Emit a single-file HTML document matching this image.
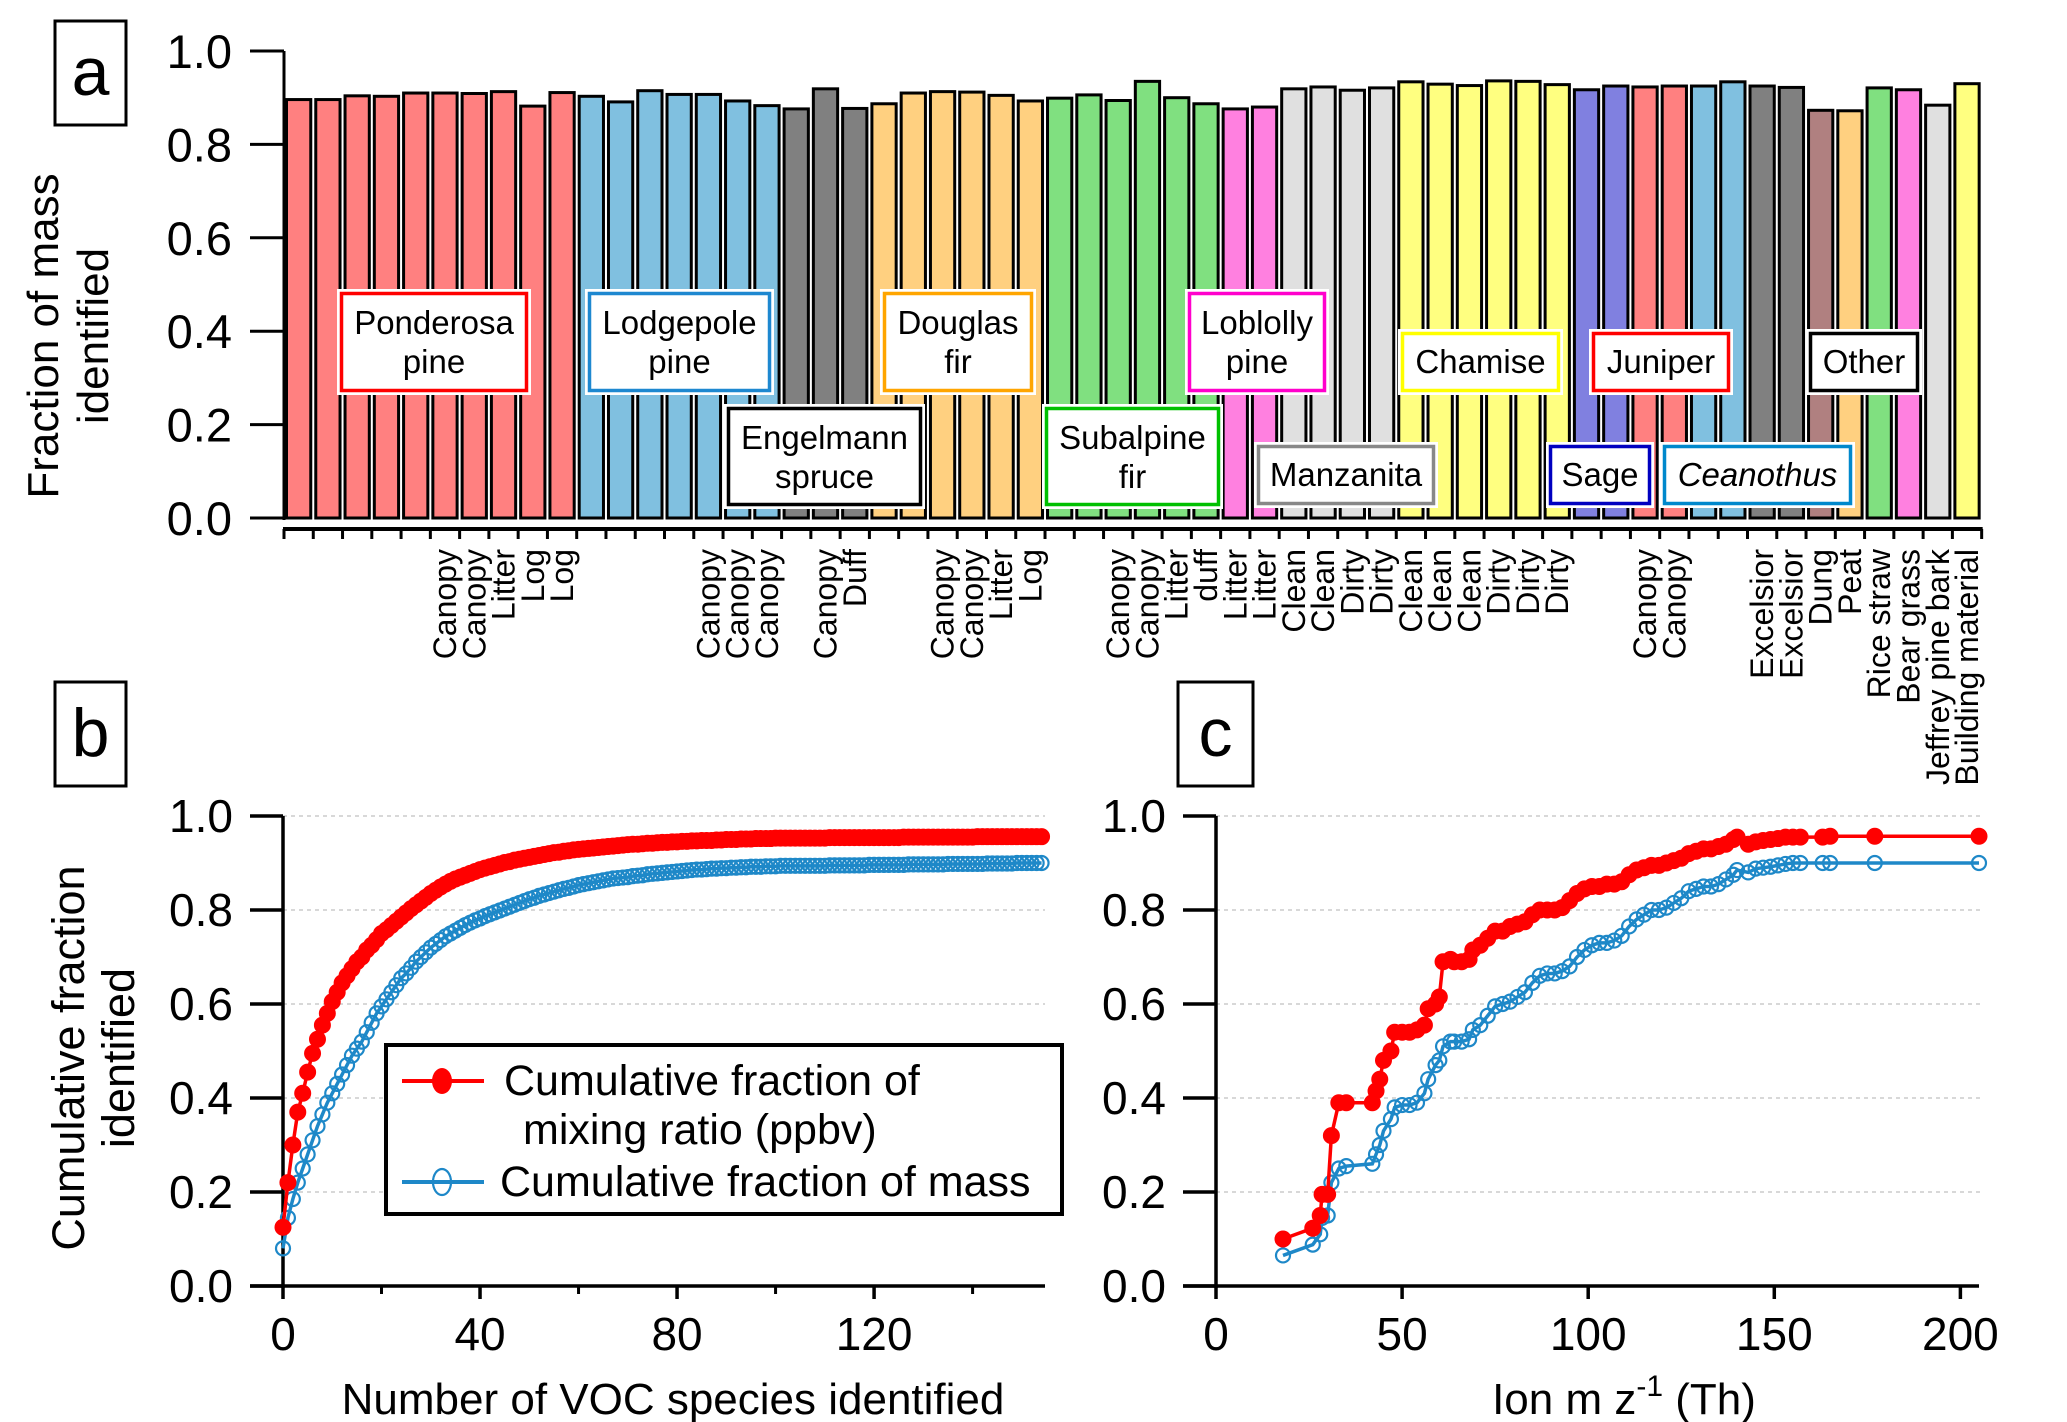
<!DOCTYPE html>
<html><head><meta charset="utf-8">
<style>
html,body{margin:0;padding:0;background:#fff;}
svg{display:block;font-family:"Liberation Sans",Arial,sans-serif;}
</style></head>
<body>
<svg id="fig" width="2067" height="1422" viewBox="0 0 2067 1422" xmlns="http://www.w3.org/2000/svg">
<rect width="2067" height="1422" fill="#fff"/>
<g id="pa"></g>
<g id="pb"></g>
<g id="pc"></g>
</svg>
<script>
// ---------- Panel a data ----------
const barValues = [0.896,0.896,0.904,0.903,0.910,0.910,0.909,0.913,0.882,0.911,
 0.903,0.891,0.915,0.907,0.907,0.893,0.883,
 0.876,0.919,0.877,
 0.887,0.910,0.913,0.912,0.905,0.893,
 0.899,0.906,0.894,0.935,0.900,0.887,
 0.876,0.880,
 0.919,0.923,0.916,0.921,
 0.934,0.929,0.926,0.936,0.935,0.928,
 0.917,0.925,
 0.923,0.925,
 0.925,0.934,
 0.925,0.922,
 0.873,0.872,0.921,0.917,0.884,0.930];
const barGroups = ['pp','pp','pp','pp','pp','pp','pp','pp','pp','pp',
 'lp','lp','lp','lp','lp','lp','lp','es','es','es',
 'df','df','df','df','df','df','sf','sf','sf','sf','sf','sf',
 'll','ll','mz','mz','mz','mz','ch','ch','ch','ch','ch','ch',
 'sg','sg','jn','jn','ce','ce','dg','dg','br','df','sf','ll','mz','ch'];
const barLabels = ['','','','','','Canopy','Canopy','Litter','Log','Log',
 '','','','','Canopy','Canopy','Canopy','','Canopy','Duff',
 '','','Canopy','Canopy','Litter','Log','','','Canopy','Canopy','Litter','duff',
 'Litter','Litter','Clean','Clean','Dirty','Dirty','Clean','Clean','Clean','Dirty','Dirty','Dirty',
 '','','Canopy','Canopy','','','Excelsior','Excelsior','Dung','Peat','Rice straw','Bear grass','Jeffrey pine bark','Building material'];
const aTicks = [0,0.2,0.4,0.6,0.8,1.0];

// ---------- Panel b data ----------
const bMixing = [0.125,0.22,0.30,0.37,0.41,0.455,0.495,0.525,0.555,0.58,0.605,
 0.625,0.645,0.66,0.675,0.69,0.70,0.715,0.725,0.737,0.75,
 0.758,0.767,0.776,0.785,0.794,0.803,0.811,0.819,0.827,0.835,
 0.842,0.849,0.855,0.861,0.866,0.870,0.874,0.878,0.882,0.886,
 0.889,0.892,0.895,0.898,0.901,0.903,0.906,0.908,0.910,0.912,
 0.914,0.916,0.918,0.920,0.922,0.923,0.925,0.926,0.928,0.929,
 0.930,0.931,0.932,0.933,0.934,0.935,0.936,0.937,0.938,0.939,
 0.940,0.940,0.941,0.942,0.942,0.943,0.944,0.944,0.945,0.945,
 0.946,0.946,0.947,0.947,0.948,0.948,0.948,0.949,0.949,0.950,
 0.950,0.950,0.951,0.951,0.951,0.952,0.952,0.952,0.952,0.953,
 0.953,0.953,0.953,0.953,0.953,0.953,0.953,0.953,0.953,0.953,
 0.954,0.954,0.954,0.954,0.954,0.954,0.954,0.954,0.954,0.954,0.954,0.954,0.954,0.954,0.954,
 0.955,0.955,0.955,0.955,0.955,0.955,0.955,0.955,0.955,0.955,0.955,0.955,0.955,0.955,0.955,
 0.956,0.956,0.956,0.956,0.956,0.956,0.956,0.956,0.956,0.956,0.956,0.956,0.956,0.956];
const bMass = [0.08,0.145,0.185,0.22,0.25,0.28,0.31,0.34,0.365,0.39,0.41,
 0.43,0.45,0.47,0.49,0.505,0.52,0.54,0.56,0.58,0.595,
 0.61,0.625,0.64,0.655,0.665,0.677,0.69,0.70,0.71,0.72,
 0.728,0.736,0.744,0.75,0.756,0.762,0.768,0.773,0.778,0.782,
 0.787,0.791,0.795,0.799,0.803,0.807,0.811,0.815,0.819,0.823,
 0.826,0.83,0.833,0.836,0.839,0.842,0.845,0.847,0.85,0.853,
 0.855,0.857,0.859,0.861,0.863,0.865,0.867,0.868,0.869,0.87,
 0.872,0.873,0.874,0.876,0.877,0.878,0.879,0.880,0.881,0.882,
 0.883,0.884,0.885,0.886,0.886,0.887,0.888,0.888,0.889,0.889,
 0.890,0.890,0.891,0.891,0.892,0.892,0.892,0.893,0.893,0.893,
 0.894,0.894,0.894,0.894,0.894,0.894,0.894,0.894,0.894,0.894,
 0.895,0.895,0.895,0.895,0.895,0.895,0.895,0.895,
 0.896,0.896,0.896,0.896,0.896,0.896,0.896,0.896,
 0.897,0.897,0.897,0.897,0.897,0.897,0.897,0.897,
 0.898,0.898,0.898,0.898,0.898,0.898,0.898,0.898,
 0.899,0.899,0.899,0.899,0.899,0.899,
 0.900,0.900,0.900,0.900,0.900,0.900];
const bXTicks = [0,40,80,120];
const bYTicks = [0,0.2,0.4,0.6,0.8,1.0];

// ---------- Panel c data ----------
const cMz = [18,26,28,28.5,30,31,33,35,42,43,44,45,47,48,50,52,54,56,57,59,60,61,63,64,66,68,69,71,73,75,77,79,81,83,85,87,89,91,93,95,97,99,101,103,105,107,109,111,113,115,117,119,121,123,125,127,129,131,133,135,137,139,140,143,145,147,149,151,153,155,157,163,165,177,205];
const cMixing = [0.10,0.123,0.15,0.195,0.195,0.32,0.39,0.39,0.39,0.415,0.44,0.48,0.50,0.54,0.54,0.54,0.545,0.555,0.59,0.60,0.615,0.69,0.695,0.69,0.69,0.695,0.715,0.725,0.74,0.755,0.755,0.765,0.77,0.775,0.79,0.80,0.80,0.80,0.805,0.82,0.835,0.845,0.85,0.85,0.855,0.855,0.86,0.875,0.885,0.89,0.895,0.895,0.90,0.905,0.91,0.92,0.925,0.93,0.93,0.935,0.94,0.95,0.955,0.94,0.945,0.948,0.95,0.952,0.955,0.955,0.955,0.955,0.957,0.957,0.957];
const cMass = [0.065,0.088,0.11,0.145,0.15,0.22,0.25,0.255,0.26,0.28,0.30,0.33,0.355,0.38,0.385,0.385,0.39,0.41,0.44,0.47,0.48,0.51,0.52,0.52,0.52,0.525,0.545,0.555,0.575,0.595,0.60,0.605,0.615,0.625,0.645,0.66,0.665,0.665,0.67,0.68,0.70,0.715,0.725,0.73,0.73,0.735,0.745,0.765,0.78,0.79,0.80,0.80,0.805,0.815,0.825,0.84,0.845,0.85,0.85,0.855,0.865,0.875,0.885,0.88,0.888,0.89,0.892,0.895,0.898,0.90,0.90,0.90,0.90,0.90,0.90];
const cXTicks = [0,50,100,150,200];
const cYTicks = [0,0.2,0.4,0.6,0.8,1.0];

const NS='http://www.w3.org/2000/svg';
function mk(parent, tag, attrs, text){
  const e=document.createElementNS(NS,tag);
  for(const k in attrs) e.setAttribute(k,attrs[k]);
  if(text!==undefined) e.textContent=text;
  parent.appendChild(e); return e;
}
const fill={pp:'#FF8080',lp:'#80C0E0',es:'#808080',df:'#FFD080',sf:'#80E080',ll:'#FF80E0',mz:'#E0E0E0',ch:'#FFFF80',sg:'#8080E0',jn:'#FF8080',ce:'#80C0E0',dg:'#808080',br:'#B08080'};

// ---------- Panel a ----------
const pa=document.getElementById('pa');
const aX0=284, aStep=29.27, aY0=518, aY1=51;
const ay=v=>aY0-(aY0-aY1)*v;
const ax=i=>aX0+i*aStep;
let el;
el=mk(pa,'rect',{x:55,y:21,width:71,height:104,fill:'#fff',stroke:'#000','stroke-width':3});


el=mk(pa,'text',{x:90.5,y:95,'font-size':68,'text-anchor':'middle'},'a');


el=mk(pa,'text',{transform:'translate(58,336) rotate(-90)','font-size':44,'text-anchor':'middle'},'Fraction of mass');


el=mk(pa,'text',{transform:'translate(108,336) rotate(-90)','font-size':44,'text-anchor':'middle'},'identified');


barValues.forEach((v,i)=>{
  const r=mk(pa,'rect',{x:ax(i)+2.5,y:ay(v),width:aStep-5,height:aY0-ay(v),fill:fill[barGroups[i]],stroke:'#000','stroke-width':3});
  
  
});
el=mk(pa,'line',{x1:aX0,y1:aY1,x2:aX0,y2:aY0+2,stroke:'#000','stroke-width':3});


aTicks.forEach(t=>{
  mk(pa,'line',{x1:250,y1:ay(t),x2:aX0,y2:ay(t),stroke:'#000','stroke-width':3});
  const tl=mk(pa,'text',{x:232,y:ay(t)+17,'font-size':47,'text-anchor':'end'},t.toFixed(1));
  
  
});
el=mk(pa,'line',{x1:aX0-1,y1:529,x2:ax(barValues.length)+1,y2:529,stroke:'#000','stroke-width':4});


for(let i=0;i<=barValues.length;i++) mk(pa,'line',{x1:ax(i),y1:529,x2:ax(i),y2:539,stroke:'#000','stroke-width':3});
barLabels.forEach((s,i)=>{
  if(!s) return;
  const t=mk(pa,'text',{transform:`translate(${ax(i)+aStep/2+11},549) rotate(-90)`,'font-size':32,'text-anchor':'end'},s);
  
  
});
const boxes=[
 ['Ponderosa','pine',340,292,188,100,'#FF0000',false],
 ['Lodgepole','pine',588,292,183,100,'#1E88D0',false],
 ['Engelmann','spruce',727,407,195,99,'#000000',false],
 ['Douglas','fir',883,292,150,100,'#FFA500',false],
 ['Subalpine','fir',1045,407,175,99,'#00C000',false],
 ['Loblolly','pine',1188,292,138,100,'#FF00CC',false],
 ['Manzanita','',1257,445,178,60,'#888888',false],
 ['Chamise','',1401,332,159,60,'#FFFF00',false],
 ['Juniper','',1592,332,138,60,'#FF0000',false],
 ['Sage','',1549,445,102,60,'#0000C0',false],
 ['Ceanothus','',1663,445,189,60,'#0088CC',true],
 ['Other','',1809,332,110,60,'#000000',false]
];
boxes.forEach(b=>{
  const g=mk(pa,'g',{});
  
  
  mk(g,'rect',{x:b[2]-3,y:b[3]-3,width:b[4]+6,height:b[5]+6,fill:'#fff'});
  mk(g,'rect',{x:b[2]+1.5,y:b[3]+1.5,width:b[4]-3,height:b[5]-3,fill:'#fff',stroke:b[6],'stroke-width':3.5});
  const cx=b[2]+b[4]/2;
  const st={'font-size':33,'text-anchor':'middle'};
  if(b[7]) st['font-style']='italic';
  if(b[1]){
    mk(g,'text',Object.assign({x:cx,y:b[3]+42},st),b[0]);
    mk(g,'text',Object.assign({x:cx,y:b[3]+81},st),b[1]);
  } else {
    mk(g,'text',Object.assign({x:cx,y:b[3]+41},st),b[0]);
  }
});

function axes(p,name,x0,x1,xmin,xmax,y0,y1,xt,yt,minor){
  const sx=v=>x0+(v-xmin)/(xmax-xmin)*(x1-x0);
  const sy=v=>y0-(y0-y1)*v;
  yt.forEach(t=>{
    if(t>0){const gl=mk(p,'line',{x1:x0,y1:sy(t),x2:1980,y2:sy(t),stroke:'#ccc','stroke-width':1.5,'stroke-dasharray':'4 4'});
      if(name==='b') gl.setAttribute('x2',1045);
      
      }
    mk(p,'line',{x1:x0-33,y1:sy(t),x2:x0,y2:sy(t),stroke:'#000','stroke-width':3.5});
    const tl=mk(p,'text',{x:x0-50,y:sy(t)+16,'font-size':46,'text-anchor':'end'},t.toFixed(1));
    
    
  });
  const ya=mk(p,'line',{x1:x0,y1:y1,x2:x0,y2:y0+2,stroke:'#000','stroke-width':3.5});
  
  
  const xa=mk(p,'line',{x1:x0-33,y1:y0,x2:x1,y2:y0,stroke:'#000','stroke-width':3.5});
  
  
  xt.forEach(t=>{
    mk(p,'line',{x1:sx(t),y1:y0,x2:sx(t),y2:y0+13,stroke:'#000','stroke-width':3.5});
    const tl=mk(p,'text',{x:sx(t),y:1350,'font-size':46,'text-anchor':'middle'},String(t));
    
    
  });
  (minor||[]).forEach(t=>mk(p,'line',{x1:sx(t),y1:y0,x2:sx(t),y2:y0+8,stroke:'#000','stroke-width':3}));
  return [sx,sy];
}
function series(p,name,xs,ys,sx,sy,color,filled,r){
  const g=mk(p,'g',{});
  
  
  mk(g,'polyline',{points:xs.map((x,i)=>sx(x)+','+sy(ys[i])).join(' '),fill:'none',stroke:color,'stroke-width':3.5});
  xs.forEach((x,i)=>{
    const c=mk(g,'circle',{cx:sx(x),cy:sy(ys[i]),r:r,fill:filled?color:'none',stroke:color,'stroke-width':filled?1:2.2});
    
    
  });
}

// ---------- Panel b ----------
const pb=document.getElementById('pb');
el=mk(pb,'rect',{x:55,y:682,width:71,height:104,fill:'#fff',stroke:'#000','stroke-width':3});


el=mk(pb,'text',{x:90.5,y:756,'font-size':68,'text-anchor':'middle'},'b');


let [bx,by]=axes(pb,'b',283,1045,0,154.7,1286,816,bXTicks,bYTicks,[20,60,100,140]);
const bIdx=bMixing.map((_,i)=>i);
series(pb,'series-mass-b',bIdx,bMass,bx,by,'#1E88C8',false,7);
series(pb,'series-mixing-b',bIdx,bMixing,bx,by,'#FF0000',true,8);
el=mk(pb,'text',{transform:'translate(84,1058) rotate(-90)','font-size':45,'text-anchor':'middle'},'Cumulative fraction');


el=mk(pb,'text',{transform:'translate(134,1058) rotate(-90)','font-size':45,'text-anchor':'middle'},'identified');


el=mk(pb,'text',{x:673,y:1414,'font-size':44,'text-anchor':'middle'},'Number of VOC species identified');


const lg=mk(pb,'g',{});


mk(lg,'rect',{x:386,y:1045,width:676,height:169,fill:'#fff',stroke:'#000','stroke-width':4});
mk(lg,'line',{x1:402,y1:1081,x2:484,y2:1081,stroke:'#FF0000','stroke-width':4});
mk(lg,'ellipse',{cx:442,cy:1081,rx:10,ry:13,fill:'#FF0000'});
el=mk(lg,'text',{x:504,y:1095,'font-size':43},'Cumulative fraction of');


mk(lg,'text',{x:523,y:1144,'font-size':43},'mixing ratio (ppbv)');
mk(lg,'line',{x1:402,y1:1182,x2:484,y2:1182,stroke:'#1E88C8','stroke-width':4});
mk(lg,'ellipse',{cx:442,cy:1182,rx:9,ry:13,fill:'none',stroke:'#1E88C8','stroke-width':2.2});
el=mk(lg,'text',{x:500,y:1196,'font-size':43},'Cumulative fraction of mass');



// ---------- Panel c ----------
const pc=document.getElementById('pc');
el=mk(pc,'rect',{x:1178,y:682,width:75,height:104,fill:'#fff',stroke:'#000','stroke-width':3});


el=mk(pc,'text',{x:1215.5,y:756,'font-size':68,'text-anchor':'middle'},'c');


let [cx_,cy_]=axes(pc,'c',1216,1979,0,205,1286,816,cXTicks,cYTicks,[]);
series(pc,'series-mass-c',cMz,cMass,cx_,cy_,'#1E88C8',false,7);
series(pc,'series-mixing-c',cMz,cMixing,cx_,cy_,'#FF0000',true,8);
el=mk(pc,'text',{x:1624,y:1414,'font-size':44,'text-anchor':'middle'});


el.innerHTML='Ion m z<tspan dy="-18" font-size="30">-1</tspan><tspan dy="18"> (Th)</tspan>';
</script>
</body></html>
